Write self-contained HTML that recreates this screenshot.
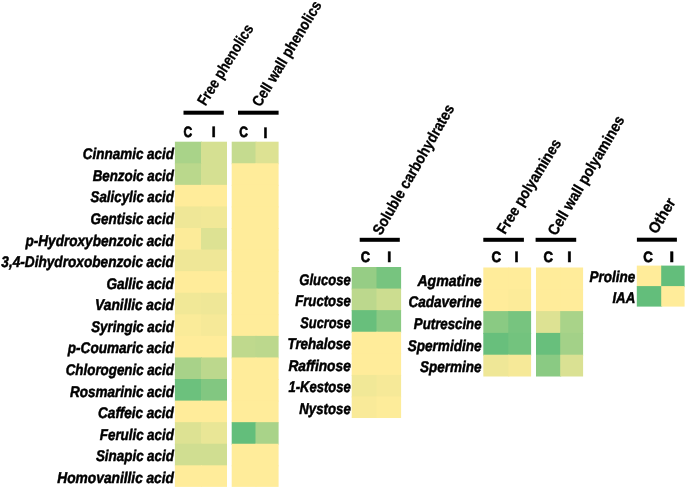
<!DOCTYPE html>
<html lang="en"><head><meta charset="utf-8"><title>Heatmap</title>
<style>
html,body{margin:0;padding:0;background:#fff;}
body{width:685px;height:488px;overflow:hidden;}
svg{display:block;}
text{font-family:"Liberation Sans", sans-serif;}
</style></head><body>
<svg width="685" height="488" viewBox="0 0 685 488" text-rendering="geometricPrecision">
<rect x="0" y="0" width="685" height="488" fill="#fff"/>
<rect x="174.90" y="141.70" width="27.10" height="22.57" fill="#a9d389"/>
<rect x="201.00" y="141.70" width="26.00" height="22.57" fill="#d5e092"/>
<rect x="174.90" y="163.27" width="27.10" height="22.57" fill="#bad88c"/>
<rect x="201.00" y="163.27" width="26.00" height="22.57" fill="#d5e092"/>
<rect x="174.90" y="184.85" width="27.10" height="22.57" fill="#ffec9a"/>
<rect x="201.00" y="184.85" width="26.00" height="22.57" fill="#ffec9a"/>
<rect x="174.90" y="206.42" width="27.10" height="22.57" fill="#efe797"/>
<rect x="201.00" y="206.42" width="26.00" height="22.57" fill="#f1e897"/>
<rect x="174.90" y="228.00" width="27.10" height="22.57" fill="#fceb99"/>
<rect x="201.00" y="228.00" width="26.00" height="22.57" fill="#dde293"/>
<rect x="174.90" y="249.57" width="27.10" height="22.57" fill="#efe797"/>
<rect x="201.00" y="249.57" width="26.00" height="22.57" fill="#efe797"/>
<rect x="174.90" y="271.15" width="27.10" height="22.57" fill="#ffec9a"/>
<rect x="201.00" y="271.15" width="26.00" height="22.57" fill="#ffec9a"/>
<rect x="174.90" y="292.73" width="27.10" height="22.57" fill="#f1e897"/>
<rect x="201.00" y="292.73" width="26.00" height="22.57" fill="#efe797"/>
<rect x="174.90" y="314.30" width="27.10" height="22.57" fill="#faeb99"/>
<rect x="201.00" y="314.30" width="26.00" height="22.57" fill="#f6e998"/>
<rect x="174.90" y="335.88" width="27.10" height="22.57" fill="#ffec9a"/>
<rect x="201.00" y="335.88" width="26.00" height="22.57" fill="#ffec9a"/>
<rect x="174.90" y="357.45" width="27.10" height="22.57" fill="#a8d289"/>
<rect x="201.00" y="357.45" width="26.00" height="22.57" fill="#bcd88d"/>
<rect x="174.90" y="379.02" width="27.10" height="22.57" fill="#6cc17d"/>
<rect x="201.00" y="379.02" width="26.00" height="22.57" fill="#82c781"/>
<rect x="174.90" y="400.60" width="27.10" height="22.57" fill="#ffec9a"/>
<rect x="201.00" y="400.60" width="26.00" height="22.57" fill="#ffec9a"/>
<rect x="174.90" y="422.17" width="27.10" height="22.57" fill="#dde293"/>
<rect x="201.00" y="422.17" width="26.00" height="22.57" fill="#e9e696"/>
<rect x="174.90" y="443.75" width="27.10" height="22.57" fill="#d0de91"/>
<rect x="201.00" y="443.75" width="26.00" height="22.57" fill="#d0de91"/>
<rect x="174.90" y="465.32" width="27.10" height="21.57" fill="#ffec9a"/>
<rect x="201.00" y="465.32" width="26.00" height="21.57" fill="#ffec9a"/>
<rect x="231.70" y="141.70" width="24.80" height="22.57" fill="#c5db8f"/>
<rect x="255.50" y="141.70" width="23.10" height="22.57" fill="#dde293"/>
<rect x="231.70" y="163.27" width="24.80" height="22.57" fill="#ffec9a"/>
<rect x="255.50" y="163.27" width="23.10" height="22.57" fill="#ffec9a"/>
<rect x="231.70" y="184.85" width="24.80" height="22.57" fill="#ffec9a"/>
<rect x="255.50" y="184.85" width="23.10" height="22.57" fill="#ffec9a"/>
<rect x="231.70" y="206.42" width="24.80" height="22.57" fill="#ffec9a"/>
<rect x="255.50" y="206.42" width="23.10" height="22.57" fill="#ffec9a"/>
<rect x="231.70" y="228.00" width="24.80" height="22.57" fill="#ffec9a"/>
<rect x="255.50" y="228.00" width="23.10" height="22.57" fill="#ffec9a"/>
<rect x="231.70" y="249.57" width="24.80" height="22.57" fill="#ffec9a"/>
<rect x="255.50" y="249.57" width="23.10" height="22.57" fill="#ffec9a"/>
<rect x="231.70" y="271.15" width="24.80" height="22.57" fill="#ffec9a"/>
<rect x="255.50" y="271.15" width="23.10" height="22.57" fill="#ffec9a"/>
<rect x="231.70" y="292.73" width="24.80" height="22.57" fill="#ffec9a"/>
<rect x="255.50" y="292.73" width="23.10" height="22.57" fill="#ffec9a"/>
<rect x="231.70" y="314.30" width="24.80" height="22.57" fill="#ffec9a"/>
<rect x="255.50" y="314.30" width="23.10" height="22.57" fill="#ffec9a"/>
<rect x="231.70" y="335.88" width="24.80" height="22.57" fill="#bfd98d"/>
<rect x="255.50" y="335.88" width="23.10" height="22.57" fill="#bcd88d"/>
<rect x="231.70" y="357.45" width="24.80" height="22.57" fill="#ffec9a"/>
<rect x="255.50" y="357.45" width="23.10" height="22.57" fill="#ffec9a"/>
<rect x="231.70" y="379.02" width="24.80" height="22.57" fill="#ffec9a"/>
<rect x="255.50" y="379.02" width="23.10" height="22.57" fill="#ffec9a"/>
<rect x="231.70" y="400.60" width="24.80" height="22.57" fill="#ffec9a"/>
<rect x="255.50" y="400.60" width="23.10" height="22.57" fill="#ffec9a"/>
<rect x="231.70" y="422.17" width="24.80" height="22.57" fill="#63be7b"/>
<rect x="255.50" y="422.17" width="23.10" height="22.57" fill="#a9d389"/>
<rect x="231.70" y="443.75" width="24.80" height="22.57" fill="#ffec9a"/>
<rect x="255.50" y="443.75" width="23.10" height="22.57" fill="#ffec9a"/>
<rect x="231.70" y="465.32" width="24.80" height="21.57" fill="#ffec9a"/>
<rect x="255.50" y="465.32" width="23.10" height="21.57" fill="#ffec9a"/>
<rect x="351.70" y="267.00" width="25.80" height="22.57" fill="#96cd85"/>
<rect x="376.50" y="267.00" width="24.60" height="22.57" fill="#77c47f"/>
<rect x="351.70" y="288.57" width="25.80" height="22.57" fill="#bcd88d"/>
<rect x="376.50" y="288.57" width="24.60" height="22.57" fill="#ccdd90"/>
<rect x="351.70" y="310.15" width="25.80" height="22.57" fill="#68bf7c"/>
<rect x="376.50" y="310.15" width="24.60" height="22.57" fill="#8aca83"/>
<rect x="351.70" y="331.73" width="25.80" height="22.57" fill="#ffec9a"/>
<rect x="376.50" y="331.73" width="24.60" height="22.57" fill="#ffec9a"/>
<rect x="351.70" y="353.30" width="25.80" height="22.57" fill="#ffec9a"/>
<rect x="376.50" y="353.30" width="24.60" height="22.57" fill="#ffec9a"/>
<rect x="351.70" y="374.88" width="25.80" height="22.57" fill="#f1e897"/>
<rect x="376.50" y="374.88" width="24.60" height="22.57" fill="#f6e998"/>
<rect x="351.70" y="396.45" width="25.80" height="21.57" fill="#f9ea99"/>
<rect x="376.50" y="396.45" width="24.60" height="21.57" fill="#fdec9a"/>
<rect x="483.30" y="267.50" width="26.00" height="22.80" fill="#ffec9a"/>
<rect x="508.30" y="267.50" width="22.80" height="22.80" fill="#ffec9a"/>
<rect x="483.30" y="289.30" width="26.00" height="22.80" fill="#ffec9a"/>
<rect x="508.30" y="289.30" width="22.80" height="22.80" fill="#fceb99"/>
<rect x="483.30" y="311.10" width="26.00" height="22.80" fill="#8aca83"/>
<rect x="508.30" y="311.10" width="22.80" height="22.80" fill="#77c47f"/>
<rect x="483.30" y="332.90" width="26.00" height="22.80" fill="#68bf7c"/>
<rect x="508.30" y="332.90" width="22.80" height="22.80" fill="#73c37e"/>
<rect x="483.30" y="354.70" width="26.00" height="21.80" fill="#efe797"/>
<rect x="508.30" y="354.70" width="22.80" height="21.80" fill="#f6e998"/>
<rect x="536.00" y="267.50" width="25.20" height="22.80" fill="#ffec9a"/>
<rect x="560.20" y="267.50" width="22.90" height="22.80" fill="#ffec9a"/>
<rect x="536.00" y="289.30" width="25.20" height="22.80" fill="#ffec9a"/>
<rect x="560.20" y="289.30" width="22.90" height="22.80" fill="#ffec9a"/>
<rect x="536.00" y="311.10" width="25.20" height="22.80" fill="#dde293"/>
<rect x="560.20" y="311.10" width="22.90" height="22.80" fill="#a9d389"/>
<rect x="536.00" y="332.90" width="25.20" height="22.80" fill="#68bf7c"/>
<rect x="560.20" y="332.90" width="22.90" height="22.80" fill="#a3d188"/>
<rect x="536.00" y="354.70" width="25.20" height="21.80" fill="#8aca83"/>
<rect x="560.20" y="354.70" width="22.90" height="21.80" fill="#dae193"/>
<rect x="636.80" y="265.60" width="25.40" height="21.50" fill="#ffec9a"/>
<rect x="661.20" y="265.60" width="23.40" height="21.50" fill="#63be7b"/>
<rect x="636.80" y="286.10" width="25.40" height="20.50" fill="#63be7b"/>
<rect x="661.20" y="286.10" width="23.40" height="20.50" fill="#ffec9a"/>
<rect x="183.50" y="110.70" width="40.30" height="4.00" fill="#000"/>
<rect x="238.00" y="110.70" width="40.60" height="4.00" fill="#000"/>
<rect x="359.70" y="237.80" width="40.10" height="4.00" fill="#000"/>
<rect x="483.30" y="237.80" width="40.60" height="4.00" fill="#000"/>
<rect x="535.60" y="237.80" width="40.60" height="4.00" fill="#000"/>
<rect x="636.90" y="237.70" width="40.00" height="4.00" fill="#000"/>
<g font-family='"Liberation Sans", sans-serif' font-weight="bold" fill="#000" stroke="#000" stroke-width="0.3">
<text x="183.6" y="137.3" textLength="8.7" lengthAdjust="spacingAndGlyphs" font-size="15" stroke-width="0.7">C</text>
<text x="211.6" y="137.3" textLength="4.4" lengthAdjust="spacingAndGlyphs" font-size="15" stroke-width="0.4">I</text>
<text x="239.3" y="137.3" textLength="8.7" lengthAdjust="spacingAndGlyphs" font-size="15" stroke-width="0.7">C</text>
<text x="263.3" y="138.0" textLength="4.4" lengthAdjust="spacingAndGlyphs" font-size="15" stroke-width="0.4">I</text>
<text x="360.7" y="262.3" textLength="9.3" lengthAdjust="spacingAndGlyphs" font-size="15" stroke-width="0.7">C</text>
<text x="387.0" y="262.3" textLength="4.5" lengthAdjust="spacingAndGlyphs" font-size="15" stroke-width="0.4">I</text>
<text x="491.5" y="262.3" textLength="9.6" lengthAdjust="spacingAndGlyphs" font-size="15" stroke-width="0.7">C</text>
<text x="514.3" y="262.3" textLength="4.5" lengthAdjust="spacingAndGlyphs" font-size="15" stroke-width="0.4">I</text>
<text x="543.4" y="262.3" textLength="9.5" lengthAdjust="spacingAndGlyphs" font-size="15" stroke-width="0.7">C</text>
<text x="567.0" y="262.3" textLength="4.8" lengthAdjust="spacingAndGlyphs" font-size="15" stroke-width="0.4">I</text>
<text x="643.3" y="262.2" textLength="9.6" lengthAdjust="spacingAndGlyphs" font-size="15" stroke-width="0.7">C</text>
<text x="669.2" y="262.2" textLength="5.0" lengthAdjust="spacingAndGlyphs" font-size="15" stroke-width="0.4">I</text>
<text x="82.8" y="159.2" textLength="91.1" lengthAdjust="spacingAndGlyphs" font-style="italic" font-size="15.5" word-spacing="-0.3" stroke-width="0.5">Cinnamic acid</text>
<text x="92.7" y="180.8" textLength="81.2" lengthAdjust="spacingAndGlyphs" font-style="italic" font-size="15.5" word-spacing="-0.3" stroke-width="0.5">Benzoic acid</text>
<text x="90.6" y="202.3" textLength="83.3" lengthAdjust="spacingAndGlyphs" font-style="italic" font-size="15.5" word-spacing="-0.3" stroke-width="0.5">Salicylic acid</text>
<text x="90.6" y="223.9" textLength="83.3" lengthAdjust="spacingAndGlyphs" font-style="italic" font-size="15.5" word-spacing="-0.3" stroke-width="0.5">Gentisic acid</text>
<text x="25.5" y="245.5" textLength="148.4" lengthAdjust="spacingAndGlyphs" font-style="italic" font-size="15.5" word-spacing="-0.3" stroke-width="0.5">p-Hydroxybenzoic acid</text>
<text x="1.3" y="267.1" textLength="172.6" lengthAdjust="spacingAndGlyphs" font-style="italic" font-size="15.5" word-spacing="-0.3" stroke-width="0.5">3,4-Dihydroxobenzoic acid</text>
<text x="106.4" y="288.6" textLength="67.5" lengthAdjust="spacingAndGlyphs" font-style="italic" font-size="15.5" word-spacing="-0.3" stroke-width="0.5">Gallic acid</text>
<text x="95.1" y="310.2" textLength="78.8" lengthAdjust="spacingAndGlyphs" font-style="italic" font-size="15.5" word-spacing="-0.3" stroke-width="0.5">Vanillic acid</text>
<text x="91.2" y="331.8" textLength="82.7" lengthAdjust="spacingAndGlyphs" font-style="italic" font-size="15.5" word-spacing="-0.3" stroke-width="0.5">Syringic acid</text>
<text x="67.8" y="353.4" textLength="106.1" lengthAdjust="spacingAndGlyphs" font-style="italic" font-size="15.5" word-spacing="-0.3" stroke-width="0.5">p-Coumaric acid</text>
<text x="65.7" y="374.9" textLength="108.2" lengthAdjust="spacingAndGlyphs" font-style="italic" font-size="15.5" word-spacing="-0.3" stroke-width="0.5">Chlorogenic acid</text>
<text x="69.9" y="396.5" textLength="104.0" lengthAdjust="spacingAndGlyphs" font-style="italic" font-size="15.5" word-spacing="-0.3" stroke-width="0.5">Rosmarinic acid</text>
<text x="98.0" y="418.1" textLength="75.9" lengthAdjust="spacingAndGlyphs" font-style="italic" font-size="15.5" word-spacing="-0.3" stroke-width="0.5">Caffeic acid</text>
<text x="99.8" y="439.7" textLength="74.1" lengthAdjust="spacingAndGlyphs" font-style="italic" font-size="15.5" word-spacing="-0.3" stroke-width="0.5">Ferulic acid</text>
<text x="95.9" y="461.2" textLength="78.0" lengthAdjust="spacingAndGlyphs" font-style="italic" font-size="15.5" word-spacing="-0.3" stroke-width="0.5">Sinapic acid</text>
<text x="57.3" y="482.8" textLength="116.6" lengthAdjust="spacingAndGlyphs" font-style="italic" font-size="15.5" word-spacing="-0.3" stroke-width="0.5">Homovanillic acid</text>
<text x="299.3" y="284.5" textLength="51.5" lengthAdjust="spacingAndGlyphs" font-style="italic" font-size="15.5" word-spacing="-0.3" stroke-width="0.5">Glucose</text>
<text x="295.2" y="306.1" textLength="55.6" lengthAdjust="spacingAndGlyphs" font-style="italic" font-size="15.5" word-spacing="-0.3" stroke-width="0.5">Fructose</text>
<text x="300.3" y="327.6" textLength="50.5" lengthAdjust="spacingAndGlyphs" font-style="italic" font-size="15.5" word-spacing="-0.3" stroke-width="0.5">Sucrose</text>
<text x="287.4" y="349.2" textLength="63.4" lengthAdjust="spacingAndGlyphs" font-style="italic" font-size="15.5" word-spacing="-0.3" stroke-width="0.5">Trehalose</text>
<text x="288.4" y="370.8" textLength="62.4" lengthAdjust="spacingAndGlyphs" font-style="italic" font-size="15.5" word-spacing="-0.3" stroke-width="0.5">Raffinose</text>
<text x="288.4" y="392.4" textLength="62.4" lengthAdjust="spacingAndGlyphs" font-style="italic" font-size="15.5" word-spacing="-0.3" stroke-width="0.5">1-Kestose</text>
<text x="299.3" y="413.9" textLength="51.5" lengthAdjust="spacingAndGlyphs" font-style="italic" font-size="15.5" word-spacing="-0.3" stroke-width="0.5">Nystose</text>
<text x="417.4" y="285.8" textLength="64.2" lengthAdjust="spacingAndGlyphs" font-style="italic" font-size="15.5" word-spacing="-0.3" stroke-width="0.5">Agmatine</text>
<text x="408.4" y="307.4" textLength="73.2" lengthAdjust="spacingAndGlyphs" font-style="italic" font-size="15.5" word-spacing="-0.3" stroke-width="0.5">Cadaverine</text>
<text x="413.8" y="329.0" textLength="67.8" lengthAdjust="spacingAndGlyphs" font-style="italic" font-size="15.5" word-spacing="-0.3" stroke-width="0.5">Putrescine</text>
<text x="407.7" y="350.6" textLength="73.9" lengthAdjust="spacingAndGlyphs" font-style="italic" font-size="15.5" word-spacing="-0.3" stroke-width="0.5">Spermidine</text>
<text x="420.1" y="372.2" textLength="61.5" lengthAdjust="spacingAndGlyphs" font-style="italic" font-size="15.5" word-spacing="-0.3" stroke-width="0.5">Spermine</text>
<text x="589.5" y="282.2" textLength="45.7" lengthAdjust="spacingAndGlyphs" font-style="italic" font-size="15.5" word-spacing="-0.3" stroke-width="0.5">Proline</text>
<text x="612.4" y="302.7" textLength="22.8" lengthAdjust="spacingAndGlyphs" font-style="italic" font-size="15.5" word-spacing="-0.3" stroke-width="0.5">IAA</text>
<text transform="translate(205.6,106.6) rotate(-58.3)" textLength="92.0" lengthAdjust="spacingAndGlyphs" font-size="15.5">Free phenolics</text>
<text transform="translate(260.3,107.8) rotate(-59)" textLength="120.0" lengthAdjust="spacingAndGlyphs" font-size="15.5">Cell wall phenolics</text>
<text transform="translate(381.0,236.0) rotate(-60)" textLength="147.5" lengthAdjust="spacingAndGlyphs" font-size="15.5">Soluble carbohydrates</text>
<text transform="translate(505.0,235.1) rotate(-58.4)" textLength="108.1" lengthAdjust="spacingAndGlyphs" font-size="15.5">Free polyamines</text>
<text transform="translate(556.1,236.6) rotate(-59.5)" textLength="135.8" lengthAdjust="spacingAndGlyphs" font-size="15.5">Cell wall polyamines</text>
<text transform="translate(656.4,234.7) rotate(-59)" textLength="38.3" lengthAdjust="spacingAndGlyphs" font-size="15.5">Other</text>
</g>
</svg>
</body></html>
